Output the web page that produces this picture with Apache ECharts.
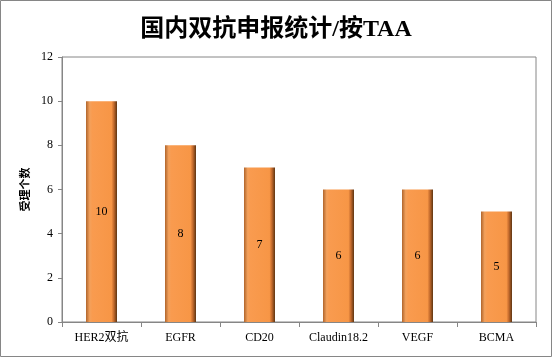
<!DOCTYPE html>
<html>
<head>
<meta charset="utf-8">
<script src="https://cdn.jsdelivr.net/npm/echarts@6/dist/echarts.min.js"></script>
<style>
html,body{margin:0;padding:0;background:#fff;}
#main{width:552px;height:357px;}
</style>
</head>
<body>
<div id="main"></div>
<script>
var categories = ['HER2双抗', 'EGFR', 'CD20', 'Claudin18.2', 'VEGF', 'BCMA'];
var counts = [10, 8, 7, 6, 6, 5];
var yTicks = { min: 0, max: 12, interval: 2 };
var titleText = '国内双抗申报统计/按TAA';
var yName = '受理个数';

var chart = echarts.init(document.getElementById('main'), null, { renderer: 'canvas' });
var serif = '"Liberation Serif", "Times New Roman", "Noto Sans CJK SC", serif';
var barGrad = new echarts.graphic.LinearGradient(0, 0, 1, 0, [
  { offset: 0, color: '#b0652c' },
  { offset: 0.12, color: '#f3a15c' },
  { offset: 0.2, color: '#f99b4f' },
  { offset: 0.82, color: '#f79646' },
  { offset: 0.9, color: '#c2692c' },
  { offset: 1, color: '#5e3512' }
]);
chart.setOption({
  animation: false,
  backgroundColor: '#fff',
  title: {
    text: titleText,
    left: 'center',
    top: 13,
    textStyle: { fontFamily: serif, fontSize: 24, fontWeight: 'bold', color: '#000' }
  },
  graphic: [{
    type: 'rect',
    shape: { x: 0.5, y: 0.5, width: 551, height: 356 },
    style: { fill: 'none', stroke: '#868686', lineWidth: 1 },
    silent: true
  }],
  grid: {
    left: 62, right: 16, top: 57, bottom: 35,
    show: true, borderColor: '#868686', borderWidth: 1, backgroundColor: '#fff'
  },
  xAxis: {
    type: 'category',
    data: categories,
    axisLine: { lineStyle: { color: '#868686' } },
    axisTick: { show: true, length: 5, alignWithLabel: false, lineStyle: { color: '#868686' } },
    axisLabel: { color: '#000', fontFamily: serif, fontSize: 12, margin: 10, interval: 0 }
  },
  yAxis: {
    type: 'value',
    min: yTicks.min, max: yTicks.max, interval: yTicks.interval,
    name: yName,
    nameLocation: 'middle',
    nameRotate: 90,
    nameGap: 28,
    nameTextStyle: { color: '#000', fontFamily: '"Noto Sans CJK SC", sans-serif', fontSize: 11, fontWeight: 'bold' },
    axisLine: { show: true, lineStyle: { color: '#868686' } },
    axisTick: { show: true, length: 4, lineStyle: { color: '#868686' } },
    splitLine: { show: false },
    axisLabel: { color: '#000', fontFamily: serif, fontSize: 12, margin: 9 }
  },
  series: [{
    type: 'bar',
    data: counts,
    barWidth: 31,
    itemStyle: { color: barGrad },
    label: {
      show: true, position: 'inside', color: '#000',
      fontFamily: serif, fontSize: 12
    }
  }]
});
</script>
</body>
</html>
